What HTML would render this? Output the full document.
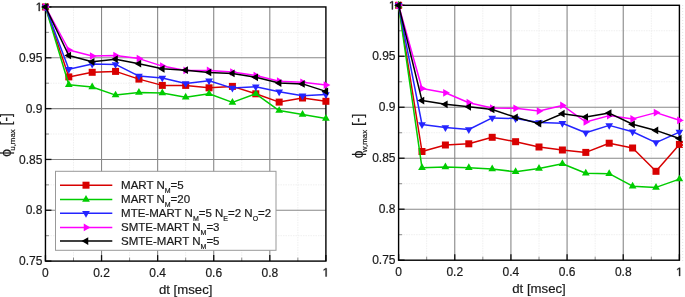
<!DOCTYPE html>
<html><head><meta charset="utf-8"><style>
html,body{margin:0;padding:0;background:#fff;width:685px;height:297px;overflow:hidden}
svg{display:block;will-change:transform}
text{font-family:"Liberation Sans",sans-serif;fill:#1a1a1a;stroke:#1a1a1a;stroke-width:0.2px}
.tl{font-size:12px}
.at{font-size:13.2px}
.yt{font-size:13.8px}
.sub{font-size:7.9px}
.lt{font-size:11.5px}
.ls{font-size:7px}
.mg{stroke:#efefef;stroke-width:1;stroke-dasharray:1.5 1}
.Mg{stroke:#888888;stroke-width:1.1}
.tk{stroke:#111;stroke-width:1.3}
.tm{stroke:#8a8a8a;stroke-width:1}
.fr{fill:none;stroke:#000;stroke-width:1.4}
</style></head><body>
<svg width="685" height="297" viewBox="0 0 685 297">
<line x1="73.5" y1="6.95" x2="73.5" y2="261.1" class="mg"/>
<line x1="129.58" y1="6.95" x2="129.58" y2="261.1" class="mg"/>
<line x1="185.68" y1="6.95" x2="185.68" y2="261.1" class="mg"/>
<line x1="241.76" y1="6.95" x2="241.76" y2="261.1" class="mg"/>
<line x1="297.86" y1="6.95" x2="297.86" y2="261.1" class="mg"/>
<line x1="45.45" y1="32.37" x2="325.9" y2="32.37" class="mg"/>
<line x1="45.45" y1="83.19" x2="325.9" y2="83.19" class="mg"/>
<line x1="45.45" y1="134.03" x2="325.9" y2="134.03" class="mg"/>
<line x1="45.45" y1="184.86" x2="325.9" y2="184.86" class="mg"/>
<line x1="45.45" y1="235.69" x2="325.9" y2="235.69" class="mg"/>
<line x1="101.54" y1="6.95" x2="101.54" y2="261.1" class="Mg"/>
<line x1="157.63" y1="6.95" x2="157.63" y2="261.1" class="Mg"/>
<line x1="213.72" y1="6.95" x2="213.72" y2="261.1" class="Mg"/>
<line x1="269.81" y1="6.95" x2="269.81" y2="261.1" class="Mg"/>
<line x1="45.45" y1="57.78" x2="325.9" y2="57.78" class="Mg"/>
<line x1="45.45" y1="108.61" x2="325.9" y2="108.61" class="Mg"/>
<line x1="45.45" y1="159.44" x2="325.9" y2="159.44" class="Mg"/>
<line x1="45.45" y1="210.27" x2="325.9" y2="210.27" class="Mg"/>
<rect x="55.5" y="171.3" width="220.5" height="79" fill="#fff" stroke="#999999" stroke-width="1"/>
<line x1="45.45" y1="261.1" x2="45.45" y2="255.1" class="tk"/>
<line x1="101.54" y1="261.1" x2="101.54" y2="255.1" class="tk"/>
<line x1="157.63" y1="261.1" x2="157.63" y2="255.1" class="tk"/>
<line x1="213.72" y1="261.1" x2="213.72" y2="255.1" class="tk"/>
<line x1="269.81" y1="261.1" x2="269.81" y2="255.1" class="tk"/>
<line x1="325.9" y1="261.1" x2="325.9" y2="255.1" class="tk"/>
<line x1="73.5" y1="261.1" x2="73.5" y2="257.6" class="tm"/>
<line x1="129.59" y1="261.1" x2="129.59" y2="257.6" class="tm"/>
<line x1="185.68" y1="261.1" x2="185.68" y2="257.6" class="tm"/>
<line x1="241.76" y1="261.1" x2="241.76" y2="257.6" class="tm"/>
<line x1="297.86" y1="261.1" x2="297.86" y2="257.6" class="tm"/>
<line x1="45.45" y1="6.95" x2="51.45" y2="6.95" class="tk"/>
<line x1="45.45" y1="57.78" x2="51.45" y2="57.78" class="tk"/>
<line x1="45.45" y1="108.61" x2="51.45" y2="108.61" class="tk"/>
<line x1="45.45" y1="159.44" x2="51.45" y2="159.44" class="tk"/>
<line x1="45.45" y1="210.27" x2="51.45" y2="210.27" class="tk"/>
<line x1="45.45" y1="261.1" x2="51.45" y2="261.1" class="tk"/>
<line x1="45.45" y1="32.37" x2="48.95" y2="32.37" class="tm"/>
<line x1="45.45" y1="83.2" x2="48.95" y2="83.2" class="tm"/>
<line x1="45.45" y1="134.03" x2="48.95" y2="134.03" class="tm"/>
<line x1="45.45" y1="184.86" x2="48.95" y2="184.86" class="tm"/>
<line x1="45.45" y1="235.69" x2="48.95" y2="235.69" class="tm"/>
<rect x="45.45" y="6.95" width="280.45" height="254.15" class="fr"/>
<polyline points="45.45,6.95 68.82,76.9 92.19,72.3 115.56,71.4 138.93,79.1 162.3,85.4 185.68,85.4 209.05,87.8 232.42,86.4 255.79,93.8 279.16,102.1 302.53,98 325.9,101.3" fill="none" stroke="#d80000" stroke-width="1.5" stroke-linejoin="round"/>
<rect x="41.95" y="3.45" width="7" height="7" fill="#d80000"/>
<rect x="65.32" y="73.4" width="7" height="7" fill="#d80000"/>
<rect x="88.69" y="68.8" width="7" height="7" fill="#d80000"/>
<rect x="112.06" y="67.9" width="7" height="7" fill="#d80000"/>
<rect x="135.43" y="75.6" width="7" height="7" fill="#d80000"/>
<rect x="158.8" y="81.9" width="7" height="7" fill="#d80000"/>
<rect x="182.18" y="81.9" width="7" height="7" fill="#d80000"/>
<rect x="205.55" y="84.3" width="7" height="7" fill="#d80000"/>
<rect x="228.92" y="82.9" width="7" height="7" fill="#d80000"/>
<rect x="252.29" y="90.3" width="7" height="7" fill="#d80000"/>
<rect x="275.66" y="98.6" width="7" height="7" fill="#d80000"/>
<rect x="299.03" y="94.5" width="7" height="7" fill="#d80000"/>
<rect x="322.4" y="97.8" width="7" height="7" fill="#d80000"/>
<polyline points="45.45,6.95 68.82,84.8 92.19,87 115.56,95.1 138.93,92.4 162.3,92.9 185.68,97.3 209.05,93.8 232.42,102.4 255.79,93.8 279.16,110.6 302.53,114.4 325.9,118.5" fill="none" stroke="#00cc00" stroke-width="1.5" stroke-linejoin="round"/>
<polygon points="45.45,2.48 49.3,9.18 41.6,9.18" fill="#00cc00"/>
<polygon points="68.82,80.33 72.67,87.03 64.97,87.03" fill="#00cc00"/>
<polygon points="92.19,82.53 96.04,89.23 88.34,89.23" fill="#00cc00"/>
<polygon points="115.56,90.63 119.41,97.33 111.71,97.33" fill="#00cc00"/>
<polygon points="138.93,87.93 142.78,94.63 135.08,94.63" fill="#00cc00"/>
<polygon points="162.3,88.43 166.15,95.13 158.45,95.13" fill="#00cc00"/>
<polygon points="185.68,92.83 189.53,99.53 181.83,99.53" fill="#00cc00"/>
<polygon points="209.05,89.33 212.9,96.03 205.2,96.03" fill="#00cc00"/>
<polygon points="232.42,97.93 236.27,104.63 228.57,104.63" fill="#00cc00"/>
<polygon points="255.79,89.33 259.64,96.03 251.94,96.03" fill="#00cc00"/>
<polygon points="279.16,106.13 283.01,112.83 275.31,112.83" fill="#00cc00"/>
<polygon points="302.53,109.93 306.38,116.63 298.68,116.63" fill="#00cc00"/>
<polygon points="325.9,114.03 329.75,120.73 322.05,120.73" fill="#00cc00"/>
<polyline points="45.45,6.95 68.82,69.2 92.19,64.1 115.56,64.4 138.93,76.1 162.3,77.9 185.68,83.4 209.05,80.7 232.42,88.1 255.79,86.7 279.16,91.7 302.53,95.7 325.9,94.5" fill="none" stroke="#2424ff" stroke-width="1.5" stroke-linejoin="round"/>
<polygon points="45.45,11.42 49.3,4.72 41.6,4.72" fill="#2424ff"/>
<polygon points="68.82,73.67 72.67,66.97 64.97,66.97" fill="#2424ff"/>
<polygon points="92.19,68.57 96.04,61.87 88.34,61.87" fill="#2424ff"/>
<polygon points="115.56,68.87 119.41,62.17 111.71,62.17" fill="#2424ff"/>
<polygon points="138.93,80.57 142.78,73.87 135.08,73.87" fill="#2424ff"/>
<polygon points="162.3,82.37 166.15,75.67 158.45,75.67" fill="#2424ff"/>
<polygon points="185.68,87.87 189.53,81.17 181.83,81.17" fill="#2424ff"/>
<polygon points="209.05,85.17 212.9,78.47 205.2,78.47" fill="#2424ff"/>
<polygon points="232.42,92.57 236.27,85.87 228.57,85.87" fill="#2424ff"/>
<polygon points="255.79,91.17 259.64,84.47 251.94,84.47" fill="#2424ff"/>
<polygon points="279.16,96.17 283.01,89.47 275.31,89.47" fill="#2424ff"/>
<polygon points="302.53,100.17 306.38,93.47 298.68,93.47" fill="#2424ff"/>
<polygon points="325.9,98.97 329.75,92.27 322.05,92.27" fill="#2424ff"/>
<polyline points="45.45,6.95 68.82,50 92.19,56 115.56,55.6 138.93,58.6 162.3,66.1 185.68,70.4 209.05,70.4 232.42,72 255.79,75.5 279.16,81.2 302.53,82.3 325.9,85.1" fill="none" stroke="#ff00ff" stroke-width="1.5" stroke-linejoin="round"/>
<polygon points="49.92,6.95 43.22,3.1 43.22,10.8" fill="#ff00ff"/>
<polygon points="73.29,50 66.59,46.15 66.59,53.85" fill="#ff00ff"/>
<polygon points="96.66,56 89.96,52.15 89.96,59.85" fill="#ff00ff"/>
<polygon points="120.03,55.6 113.33,51.75 113.33,59.45" fill="#ff00ff"/>
<polygon points="143.4,58.6 136.7,54.75 136.7,62.45" fill="#ff00ff"/>
<polygon points="166.77,66.1 160.07,62.25 160.07,69.95" fill="#ff00ff"/>
<polygon points="190.14,70.4 183.44,66.55 183.44,74.25" fill="#ff00ff"/>
<polygon points="213.51,70.4 206.81,66.55 206.81,74.25" fill="#ff00ff"/>
<polygon points="236.88,72 230.18,68.15 230.18,75.85" fill="#ff00ff"/>
<polygon points="260.25,75.5 253.55,71.65 253.55,79.35" fill="#ff00ff"/>
<polygon points="283.62,81.2 276.93,77.35 276.93,85.05" fill="#ff00ff"/>
<polygon points="307,82.3 300.3,78.45 300.3,86.15" fill="#ff00ff"/>
<polygon points="330.37,85.1 323.67,81.25 323.67,88.95" fill="#ff00ff"/>
<polyline points="45.45,6.95 68.82,55.5 92.19,61.8 115.56,59.2 138.93,63.7 162.3,68.8 185.68,70.2 209.05,72.4 232.42,73.4 255.79,77.3 279.16,83.1 302.53,83.9 325.9,91.4" fill="none" stroke="#000000" stroke-width="1.5" stroke-linejoin="round"/>
<polygon points="40.98,6.95 47.68,3.1 47.68,10.8" fill="#000000"/>
<polygon points="64.35,55.5 71.05,51.65 71.05,59.35" fill="#000000"/>
<polygon points="87.72,61.8 94.42,57.95 94.42,65.65" fill="#000000"/>
<polygon points="111.1,59.2 117.8,55.35 117.8,63.05" fill="#000000"/>
<polygon points="134.47,63.7 141.17,59.85 141.17,67.55" fill="#000000"/>
<polygon points="157.84,68.8 164.54,64.95 164.54,72.65" fill="#000000"/>
<polygon points="181.21,70.2 187.91,66.35 187.91,74.05" fill="#000000"/>
<polygon points="204.58,72.4 211.28,68.55 211.28,76.25" fill="#000000"/>
<polygon points="227.95,73.4 234.65,69.55 234.65,77.25" fill="#000000"/>
<polygon points="251.32,77.3 258.02,73.45 258.02,81.15" fill="#000000"/>
<polygon points="274.69,83.1 281.39,79.25 281.39,86.95" fill="#000000"/>
<polygon points="298.06,83.9 304.76,80.05 304.76,87.75" fill="#000000"/>
<polygon points="321.43,91.4 328.13,87.55 328.13,95.25" fill="#000000"/>
<text x="45.45" y="276.5" class="tl" text-anchor="middle">0</text>
<text x="101.54" y="276.5" class="tl" text-anchor="middle">0.2</text>
<text x="157.63" y="276.5" class="tl" text-anchor="middle">0.4</text>
<text x="213.72" y="276.5" class="tl" text-anchor="middle">0.6</text>
<text x="269.81" y="276.5" class="tl" text-anchor="middle">0.8</text>
<path d="M515 0V1237L197 1010V1180L530 1409H696V0Z" transform="translate(322.56,276.5) scale(0.00586,-0.00586)" fill="#1a1a1a" stroke="#1a1a1a" stroke-width="59.7"/>
<path d="M515 0V1237L197 1010V1180L530 1409H696V0Z" transform="translate(35.68,11.05) scale(0.00586,-0.00586)" fill="#1a1a1a" stroke="#1a1a1a" stroke-width="59.7"/>
<text x="42.35" y="61.88" class="tl" text-anchor="end">0.95</text>
<text x="42.35" y="112.71" class="tl" text-anchor="end">0.9</text>
<text x="42.35" y="163.54" class="tl" text-anchor="end">0.85</text>
<text x="42.35" y="214.37" class="tl" text-anchor="end">0.8</text>
<text x="42.35" y="265.2" class="tl" text-anchor="end">0.75</text>
<text x="185.67" y="293.7" class="at" text-anchor="middle">dt [msec]</text>
<text transform="translate(11,135) rotate(-90)" class="yt" text-anchor="middle">&#x3D5;<tspan class="sub" dy="4" dx="-1.6">u,max</tspan><tspan dy="-4"> [-]</tspan></text>
<line x1="60" y1="185.2" x2="112.3" y2="185.2" stroke="#d80000" stroke-width="1.5"/>
<rect x="82.5" y="181.7" width="7" height="7" fill="#d80000"/>
<text x="121.1" y="189.1" class="lt">MART N<tspan class="ls" dy="3.7">M</tspan><tspan dy="-3.7">=5</tspan></text>
<line x1="60" y1="199.5" x2="112.3" y2="199.5" stroke="#00cc00" stroke-width="1.5"/>
<polygon points="86,195.03 89.85,201.73 82.15,201.73" fill="#00cc00"/>
<text x="121.1" y="203.4" class="lt">MART N<tspan class="ls" dy="3.7">M</tspan><tspan dy="-3.7">=20</tspan></text>
<line x1="60" y1="213.3" x2="112.3" y2="213.3" stroke="#2424ff" stroke-width="1.5"/>
<polygon points="86,217.77 89.85,211.07 82.15,211.07" fill="#2424ff"/>
<text x="121.1" y="217.2" class="lt">MTE-MART N<tspan class="ls" dy="3.7">M</tspan><tspan dy="-3.7">=5 N</tspan><tspan class="ls" dy="3.7">E</tspan><tspan dy="-3.7">=2 N</tspan><tspan class="ls" dy="3.7">O</tspan><tspan dy="-3.7">=2</tspan></text>
<line x1="60" y1="227.4" x2="112.3" y2="227.4" stroke="#ff00ff" stroke-width="1.5"/>
<polygon points="90.47,227.4 83.77,223.55 83.77,231.25" fill="#ff00ff"/>
<text x="121.1" y="231.3" class="lt">SMTE-MART N<tspan class="ls" dy="3.7">M</tspan><tspan dy="-3.7">=3</tspan></text>
<line x1="60" y1="241.1" x2="112.3" y2="241.1" stroke="#000000" stroke-width="1.5"/>
<polygon points="81.53,241.1 88.23,237.25 88.23,244.95" fill="#000000"/>
<text x="121.1" y="245" class="lt">SMTE-MART N<tspan class="ls" dy="3.7">M</tspan><tspan dy="-3.7">=5</tspan></text>
<line x1="426.68" y1="5.3" x2="426.68" y2="260.2" class="mg"/>
<line x1="482.84" y1="5.3" x2="482.84" y2="260.2" class="mg"/>
<line x1="539" y1="5.3" x2="539" y2="260.2" class="mg"/>
<line x1="595.16" y1="5.3" x2="595.16" y2="260.2" class="mg"/>
<line x1="651.32" y1="5.3" x2="651.32" y2="260.2" class="mg"/>
<line x1="398.6" y1="30.79" x2="679.4" y2="30.79" class="mg"/>
<line x1="398.6" y1="81.77" x2="679.4" y2="81.77" class="mg"/>
<line x1="398.6" y1="132.75" x2="679.4" y2="132.75" class="mg"/>
<line x1="398.6" y1="183.73" x2="679.4" y2="183.73" class="mg"/>
<line x1="398.6" y1="234.71" x2="679.4" y2="234.71" class="mg"/>
<line x1="454.76" y1="5.3" x2="454.76" y2="260.2" class="Mg"/>
<line x1="510.92" y1="5.3" x2="510.92" y2="260.2" class="Mg"/>
<line x1="567.08" y1="5.3" x2="567.08" y2="260.2" class="Mg"/>
<line x1="623.24" y1="5.3" x2="623.24" y2="260.2" class="Mg"/>
<line x1="398.6" y1="56.28" x2="679.4" y2="56.28" class="Mg"/>
<line x1="398.6" y1="107.26" x2="679.4" y2="107.26" class="Mg"/>
<line x1="398.6" y1="158.24" x2="679.4" y2="158.24" class="Mg"/>
<line x1="398.6" y1="209.22" x2="679.4" y2="209.22" class="Mg"/>
<line x1="398.6" y1="260.2" x2="398.6" y2="254.2" class="tk"/>
<line x1="454.76" y1="260.2" x2="454.76" y2="254.2" class="tk"/>
<line x1="510.92" y1="260.2" x2="510.92" y2="254.2" class="tk"/>
<line x1="567.08" y1="260.2" x2="567.08" y2="254.2" class="tk"/>
<line x1="623.24" y1="260.2" x2="623.24" y2="254.2" class="tk"/>
<line x1="679.4" y1="260.2" x2="679.4" y2="254.2" class="tk"/>
<line x1="426.68" y1="260.2" x2="426.68" y2="256.7" class="tm"/>
<line x1="482.84" y1="260.2" x2="482.84" y2="256.7" class="tm"/>
<line x1="539" y1="260.2" x2="539" y2="256.7" class="tm"/>
<line x1="595.16" y1="260.2" x2="595.16" y2="256.7" class="tm"/>
<line x1="651.32" y1="260.2" x2="651.32" y2="256.7" class="tm"/>
<line x1="398.6" y1="5.3" x2="404.6" y2="5.3" class="tk"/>
<line x1="398.6" y1="56.28" x2="404.6" y2="56.28" class="tk"/>
<line x1="398.6" y1="107.26" x2="404.6" y2="107.26" class="tk"/>
<line x1="398.6" y1="158.24" x2="404.6" y2="158.24" class="tk"/>
<line x1="398.6" y1="209.22" x2="404.6" y2="209.22" class="tk"/>
<line x1="398.6" y1="260.2" x2="404.6" y2="260.2" class="tk"/>
<line x1="398.6" y1="30.79" x2="402.1" y2="30.79" class="tm"/>
<line x1="398.6" y1="81.77" x2="402.1" y2="81.77" class="tm"/>
<line x1="398.6" y1="132.75" x2="402.1" y2="132.75" class="tm"/>
<line x1="398.6" y1="183.73" x2="402.1" y2="183.73" class="tm"/>
<line x1="398.6" y1="234.71" x2="402.1" y2="234.71" class="tm"/>
<rect x="398.6" y="5.3" width="280.8" height="254.9" class="fr"/>
<polyline points="398.6,5.3 422,151.5 445.4,145 468.8,143.8 492.2,137.3 515.6,141.7 539,147 562.4,150 585.8,152.4 609.2,143.2 632.6,148 656,171.3 679.4,144.4" fill="none" stroke="#d80000" stroke-width="1.5" stroke-linejoin="round"/>
<rect x="395.1" y="1.8" width="7" height="7" fill="#d80000"/>
<rect x="418.5" y="148" width="7" height="7" fill="#d80000"/>
<rect x="441.9" y="141.5" width="7" height="7" fill="#d80000"/>
<rect x="465.3" y="140.3" width="7" height="7" fill="#d80000"/>
<rect x="488.7" y="133.8" width="7" height="7" fill="#d80000"/>
<rect x="512.1" y="138.2" width="7" height="7" fill="#d80000"/>
<rect x="535.5" y="143.5" width="7" height="7" fill="#d80000"/>
<rect x="558.9" y="146.5" width="7" height="7" fill="#d80000"/>
<rect x="582.3" y="148.9" width="7" height="7" fill="#d80000"/>
<rect x="605.7" y="139.7" width="7" height="7" fill="#d80000"/>
<rect x="629.1" y="144.5" width="7" height="7" fill="#d80000"/>
<rect x="652.5" y="167.8" width="7" height="7" fill="#d80000"/>
<rect x="675.9" y="140.9" width="7" height="7" fill="#d80000"/>
<polyline points="398.6,5.3 422,167.8 445.4,167 468.8,167.8 492.2,169 515.6,171.8 539,168.5 562.4,163.8 585.8,173.2 609.2,173.7 632.6,186.2 656,187.4 679.4,179.1" fill="none" stroke="#00cc00" stroke-width="1.5" stroke-linejoin="round"/>
<polygon points="398.6,0.83 402.45,7.53 394.75,7.53" fill="#00cc00"/>
<polygon points="422,163.33 425.85,170.03 418.15,170.03" fill="#00cc00"/>
<polygon points="445.4,162.53 449.25,169.23 441.55,169.23" fill="#00cc00"/>
<polygon points="468.8,163.33 472.65,170.03 464.95,170.03" fill="#00cc00"/>
<polygon points="492.2,164.53 496.05,171.23 488.35,171.23" fill="#00cc00"/>
<polygon points="515.6,167.33 519.45,174.03 511.75,174.03" fill="#00cc00"/>
<polygon points="539,164.03 542.85,170.73 535.15,170.73" fill="#00cc00"/>
<polygon points="562.4,159.33 566.25,166.03 558.55,166.03" fill="#00cc00"/>
<polygon points="585.8,168.73 589.65,175.43 581.95,175.43" fill="#00cc00"/>
<polygon points="609.2,169.23 613.05,175.93 605.35,175.93" fill="#00cc00"/>
<polygon points="632.6,181.73 636.45,188.43 628.75,188.43" fill="#00cc00"/>
<polygon points="656,182.93 659.85,189.63 652.15,189.63" fill="#00cc00"/>
<polygon points="679.4,174.63 683.25,181.33 675.55,181.33" fill="#00cc00"/>
<polyline points="398.6,5.3 422,124.5 445.4,127.5 468.8,129.5 492.2,117.9 515.6,118.6 539,122.5 562.4,123.3 585.8,132.8 609.2,125.4 632.6,131.7 656,142.6 679.4,132.1" fill="none" stroke="#2424ff" stroke-width="1.5" stroke-linejoin="round"/>
<polygon points="398.6,9.77 402.45,3.07 394.75,3.07" fill="#2424ff"/>
<polygon points="422,128.97 425.85,122.27 418.15,122.27" fill="#2424ff"/>
<polygon points="445.4,131.97 449.25,125.27 441.55,125.27" fill="#2424ff"/>
<polygon points="468.8,133.97 472.65,127.27 464.95,127.27" fill="#2424ff"/>
<polygon points="492.2,122.37 496.05,115.67 488.35,115.67" fill="#2424ff"/>
<polygon points="515.6,123.07 519.45,116.37 511.75,116.37" fill="#2424ff"/>
<polygon points="539,126.97 542.85,120.27 535.15,120.27" fill="#2424ff"/>
<polygon points="562.4,127.77 566.25,121.07 558.55,121.07" fill="#2424ff"/>
<polygon points="585.8,137.27 589.65,130.57 581.95,130.57" fill="#2424ff"/>
<polygon points="609.2,129.87 613.05,123.17 605.35,123.17" fill="#2424ff"/>
<polygon points="632.6,136.17 636.45,129.47 628.75,129.47" fill="#2424ff"/>
<polygon points="656,147.07 659.85,140.37 652.15,140.37" fill="#2424ff"/>
<polygon points="679.4,136.57 683.25,129.87 675.55,129.87" fill="#2424ff"/>
<polyline points="398.6,5.3 422,88.5 445.4,92.8 468.8,102.7 492.2,108.1 515.6,108.3 539,111.1 562.4,105.4 585.8,122 609.2,115.6 632.6,118.9 656,112.6 679.4,120.3" fill="none" stroke="#ff00ff" stroke-width="1.5" stroke-linejoin="round"/>
<polygon points="403.07,5.3 396.37,1.45 396.37,9.15" fill="#ff00ff"/>
<polygon points="426.47,88.5 419.77,84.65 419.77,92.35" fill="#ff00ff"/>
<polygon points="449.87,92.8 443.17,88.95 443.17,96.65" fill="#ff00ff"/>
<polygon points="473.27,102.7 466.57,98.85 466.57,106.55" fill="#ff00ff"/>
<polygon points="496.67,108.1 489.97,104.25 489.97,111.95" fill="#ff00ff"/>
<polygon points="520.07,108.3 513.37,104.45 513.37,112.15" fill="#ff00ff"/>
<polygon points="543.47,111.1 536.77,107.25 536.77,114.95" fill="#ff00ff"/>
<polygon points="566.87,105.4 560.17,101.55 560.17,109.25" fill="#ff00ff"/>
<polygon points="590.27,122 583.57,118.15 583.57,125.85" fill="#ff00ff"/>
<polygon points="613.67,115.6 606.97,111.75 606.97,119.45" fill="#ff00ff"/>
<polygon points="637.07,118.9 630.37,115.05 630.37,122.75" fill="#ff00ff"/>
<polygon points="660.47,112.6 653.77,108.75 653.77,116.45" fill="#ff00ff"/>
<polygon points="683.87,120.3 677.17,116.45 677.17,124.15" fill="#ff00ff"/>
<polyline points="398.6,5.3 422,100.6 445.4,104.3 468.8,106.8 492.2,109.5 515.6,117.3 539,123.6 562.4,113.7 585.8,117 609.2,113.1 632.6,124.3 656,130.4 679.4,138.5" fill="none" stroke="#000000" stroke-width="1.5" stroke-linejoin="round"/>
<polygon points="394.13,5.3 400.83,1.45 400.83,9.15" fill="#000000"/>
<polygon points="417.53,100.6 424.23,96.75 424.23,104.45" fill="#000000"/>
<polygon points="440.93,104.3 447.63,100.45 447.63,108.15" fill="#000000"/>
<polygon points="464.33,106.8 471.03,102.95 471.03,110.65" fill="#000000"/>
<polygon points="487.73,109.5 494.43,105.65 494.43,113.35" fill="#000000"/>
<polygon points="511.13,117.3 517.83,113.45 517.83,121.15" fill="#000000"/>
<polygon points="534.53,123.6 541.23,119.75 541.23,127.45" fill="#000000"/>
<polygon points="557.93,113.7 564.63,109.85 564.63,117.55" fill="#000000"/>
<polygon points="581.33,117 588.03,113.15 588.03,120.85" fill="#000000"/>
<polygon points="604.73,113.1 611.43,109.25 611.43,116.95" fill="#000000"/>
<polygon points="628.13,124.3 634.83,120.45 634.83,128.15" fill="#000000"/>
<polygon points="651.53,130.4 658.23,126.55 658.23,134.25" fill="#000000"/>
<polygon points="674.93,138.5 681.63,134.65 681.63,142.35" fill="#000000"/>
<text x="398.6" y="276" class="tl" text-anchor="middle">0</text>
<text x="454.76" y="276" class="tl" text-anchor="middle">0.2</text>
<text x="510.92" y="276" class="tl" text-anchor="middle">0.4</text>
<text x="567.08" y="276" class="tl" text-anchor="middle">0.6</text>
<text x="623.24" y="276" class="tl" text-anchor="middle">0.8</text>
<path d="M515 0V1237L197 1010V1180L530 1409H696V0Z" transform="translate(676.06,276) scale(0.00586,-0.00586)" fill="#1a1a1a" stroke="#1a1a1a" stroke-width="59.7"/>
<path d="M515 0V1237L197 1010V1180L530 1409H696V0Z" transform="translate(388.83,9.4) scale(0.00586,-0.00586)" fill="#1a1a1a" stroke="#1a1a1a" stroke-width="59.7"/>
<text x="395.5" y="60.38" class="tl" text-anchor="end">0.95</text>
<text x="395.5" y="111.36" class="tl" text-anchor="end">0.9</text>
<text x="395.5" y="162.34" class="tl" text-anchor="end">0.85</text>
<text x="395.5" y="213.32" class="tl" text-anchor="end">0.8</text>
<text x="395.5" y="264.3" class="tl" text-anchor="end">0.75</text>
<text x="539" y="292.8" class="at" text-anchor="middle">dt [msec]</text>
<text transform="translate(363.2,136) rotate(-90)" class="yt" text-anchor="middle">&#x3D5;<tspan class="sub" dy="4" dx="-1.6">w,max</tspan><tspan dy="-4"> [-]</tspan></text>
<line x1="682.7" y1="5" x2="682.7" y2="262" stroke="#e4e4e4" stroke-width="1" stroke-dasharray="1 2"/>
</svg>
</body></html>
